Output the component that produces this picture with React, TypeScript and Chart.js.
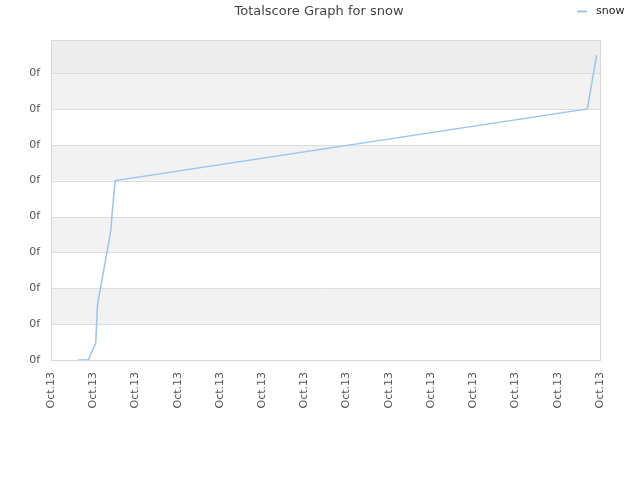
import React, { useEffect, useRef } from "react";
import { Chart, registerables } from "chart.js";

Chart.register(...registerables);

const titleText = "Totalscore Graph for snow";
const seriesName = "snow";
const xValues = [0.64, 0.88, 1.06, 1.1, 1.42, 1.44, 1.52, 12.7, 12.92];
const yValues = [0, 0, 0.47, 1.53, 3.63, 3.99, 5.0, 7.0, 8.5];
const yTickLabel = "0f";
const xTickLabel = "Oct.13";
const xMin = 0;
const xMax = 13;
const yMin = 0;
const yMax = 8.92;

const FONT = "'DejaVu Sans', sans-serif";
const LINE_COLOR = "rgb(153,197,240)";

const decorPlugin = {
  id: "decor",
  beforeDatasetsDraw(chart: any) {
    const { ctx, chartArea, scales } = chart;
    const y = scales.y;
    ctx.save();
    for (let v = 0; v < 9; v++) {
      const bottom = y.getPixelForValue(v);
      const top = v === 8 ? chartArea.top : y.getPixelForValue(v + 1);
      let color = v % 2 === 0 ? "#ffffff" : "#f2f2f2";
      if (v === 8) color = "#ededed";
      ctx.fillStyle = color;
      ctx.fillRect(chartArea.left, top, chartArea.right - chartArea.left, bottom - top);
    }
    ctx.strokeStyle = "#dedede";
    ctx.lineWidth = 1;
    for (let v = 1; v <= 8; v++) {
      const py = Math.round(y.getPixelForValue(v)) + 0.5;
      ctx.beginPath();
      ctx.moveTo(chartArea.left, py);
      ctx.lineTo(chartArea.right, py);
      ctx.stroke();
    }
    ctx.strokeStyle = "#d8d8d8";
    ctx.strokeRect(
      Math.round(chartArea.left) + 0.5,
      Math.round(chartArea.top) + 0.5,
      Math.round(chartArea.right - chartArea.left),
      Math.round(chartArea.bottom - chartArea.top)
    );
    ctx.restore();
  },
  afterDraw(chart: any) {
    const { ctx } = chart;
    ctx.save();
    ctx.fillStyle = "#444444";
    ctx.font = "13px " + FONT;
    ctx.textAlign = "center";
    ctx.textBaseline = "middle";
    ctx.fillText(titleText, 319, 12);
    ctx.strokeStyle = LINE_COLOR;
    ctx.lineWidth = 2;
    ctx.beginPath();
    ctx.moveTo(577, 11.5);
    ctx.lineTo(587, 11.5);
    ctx.stroke();
    ctx.fillStyle = "#222222";
    ctx.font = "11px " + FONT;
    ctx.textAlign = "left";
    ctx.fillText(seriesName, 596, 11);
    ctx.restore();
  },
};

export default function App() {
  const ref = useRef<HTMLCanvasElement>(null);
  useEffect(() => {
    document.body.style.margin = "0";
    const data = xValues.map((x, i) => ({ x, y: yValues[i] }));
    const chart = new Chart(ref.current as HTMLCanvasElement, {
      type: "line",
      data: {
        datasets: [
          {
            label: seriesName,
            data,
            borderColor: LINE_COLOR,
            backgroundColor: LINE_COLOR,
            borderWidth: 1.5,
            pointRadius: 0,
            tension: 0,
            fill: false,
          },
        ],
      },
      options: {
        animation: false,
        responsive: false,
        devicePixelRatio: 1,
        layout: { padding: { top: 40, right: 40, left: 0, bottom: 0 } },
        plugins: {
          legend: { display: false },
          title: { display: false },
          tooltip: { enabled: false },
        },
        scales: {
          x: {
            type: "linear",
            min: xMin,
            max: xMax,
            afterFit: (s: any) => {
              s.height = 120;
            },
            grid: { display: false, drawTicks: false },
            border: { display: false },
            ticks: {
              stepSize: 1,
              autoSkip: false,
              maxRotation: 90,
              minRotation: 90,
              padding: 12,
              color: "#555555",
              font: { family: FONT, size: 11 },
              callback: () => xTickLabel,
            },
          },
          y: {
            type: "linear",
            min: yMin,
            max: yMax,
            afterFit: (s: any) => {
              s.width = 51;
            },
            grid: { display: false, drawTicks: false },
            border: { display: false },
            ticks: {
              stepSize: 1,
              padding: 11,
              color: "#555555",
              font: { family: FONT, size: 11 },
              callback: (v: any) => (Number.isInteger(v) ? yTickLabel : ""),
            },
          },
        },
      },
      plugins: [decorPlugin],
    });
    return () => chart.destroy();
  }, []);
  return (
    <div style={{ width: 640, height: 480 }}>
      <canvas ref={ref} width={640} height={480} />
    </div>
  );
}
